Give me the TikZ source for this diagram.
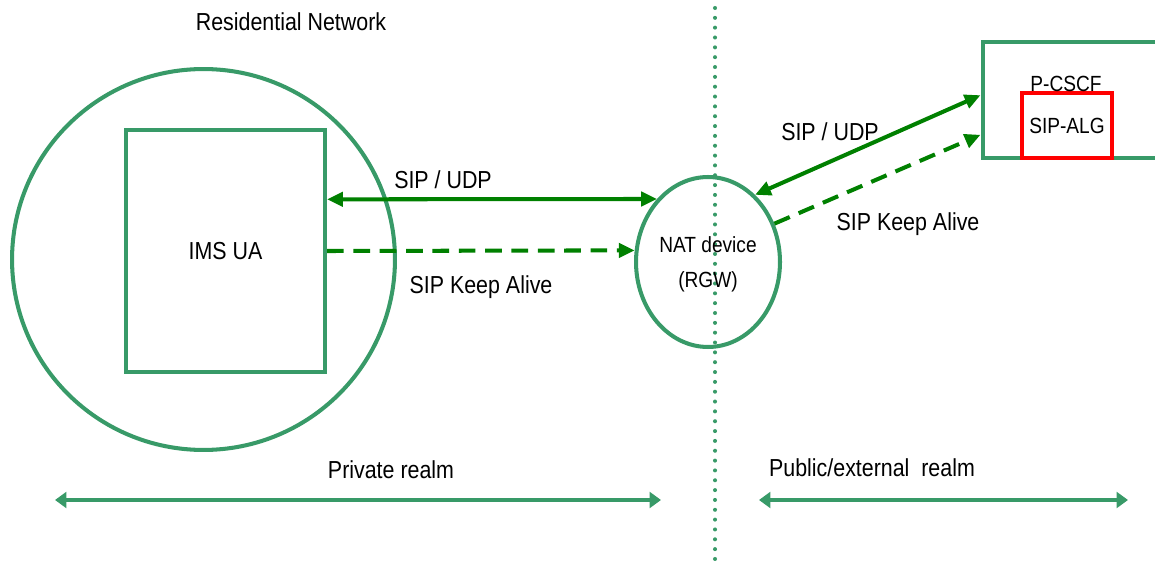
\documentclass[tikz,border=0pt]{standalone}
\usepackage{fontspec}
\setmainfont{Liberation Sans}[FakeStretch=0.87]
\usetikzlibrary{shapes,arrows,positioning,calc,arrows.meta}
\definecolor{boxgreen}{RGB}{56,154,104}
\definecolor{siggreen}{RGB}{0,128,0}
\definecolor{algred}{RGB}{255,0,0}

\begin{document}
\begin{tikzpicture}[x=0.02cm, y=-0.02cm,
    outline/.style={draw=boxgreen, line width=2.3pt},
    sig/.style={draw=siggreen, line width=2.3pt},
    sigtip/.style={-{Triangle[length=9pt,width=8pt]}},
    keepalive/.style={sig, sigtip, dash pattern=on 9.5pt off 5.5pt},
    realm/.style={draw=boxgreen, line width=2.3pt, {Triangle[length=6.5pt,width=9pt]}-{Triangle[length=6.5pt,width=9pt]}},
    txt/.style={font=\fontsize{14}{16}\selectfont, inner sep=1pt},
    smalltxt/.style={font=\fontsize{12.5}{20}\selectfont, inner sep=1pt}]
        \clip (0,0) rectangle (1155,563);

        % Residential network
        \node[outline, ellipse, minimum width=7.66cm, minimum height=7.62cm] (home) at (203.5,259.5) {};
        \node[txt] (homelbl) at (291,22) {Residential Network};
        \node[outline, minimum width=3.98cm, minimum height=4.84cm, txt] (ua) at (225.5,251) {IMS UA};

        % NAT and border line
        \coordinate (divtop) at (715,8);
        \coordinate (divbot) at (715,563);
        \draw[boxgreen, line width=2.3pt, line cap=round, dash pattern=on 0pt off 5.6pt] (divtop) -- (divbot);
        \node[outline, ellipse, minimum width=2.88cm, minimum height=3.4cm] (nat) at (708,262) {};
        \node[smalltxt, align=center] (natlbl) at (708,264) {NAT device\\(RGW)};

        % P-CSCF
        \node[outline, minimum width=5.3cm, minimum height=2.32cm] (pcscf) at (1115,100) {};
        \node[draw=algred, line width=2.3pt, minimum width=1.8cm, minimum height=1.3cm, smalltxt] (alg) at (1067,125.5) {SIP-ALG};
        \node[smalltxt] (pcscflbl) at (1066,84) {P-CSCF};

        % signalling, private side
        \draw[sig, {Triangle[length=9pt,width=8pt]}-{Triangle[length=9pt,width=8pt]}]
            ($(ua.north east)!0.29!(ua.south east)$) -- (nat.129);
        \node[txt] (udpl) at (443,180) {SIP / UDP};
        \draw[keepalive] (ua.east) -- (nat.171);
        \node[txt] (kal) at (481,287) {SIP Keep Alive};

        % signalling, public side
        \draw[sig, {Triangle[length=9pt,width=8pt]}-{Triangle[length=9pt,width=8pt]}]
            (nat.55) -- ($(pcscf.north west)!0.46!(pcscf.south west)$);
        \node[txt] (udpr) at (830,132) {SIP / UDP};
        \draw[keepalive] (nat.30) -- ($(pcscf.north west)!0.79!(pcscf.south west)$);
        \node[txt] (kar) at (908,224) {SIP Keep Alive};

        % realms
        \coordinate (privL) at (55,500);
        \coordinate (privR) at (661,500);
        \coordinate (pubL) at (759,500);
        \coordinate (pubR) at (1128,500);
        \draw[realm] (privL) -- (privR);
        \draw[realm] (pubL) -- (pubR);
        \node[txt] (privlbl) at (391,470) {Private realm};
        \node[txt] (publbl) at (872,468) {Public/external\ \ realm};
\end{tikzpicture}
\end{document}
